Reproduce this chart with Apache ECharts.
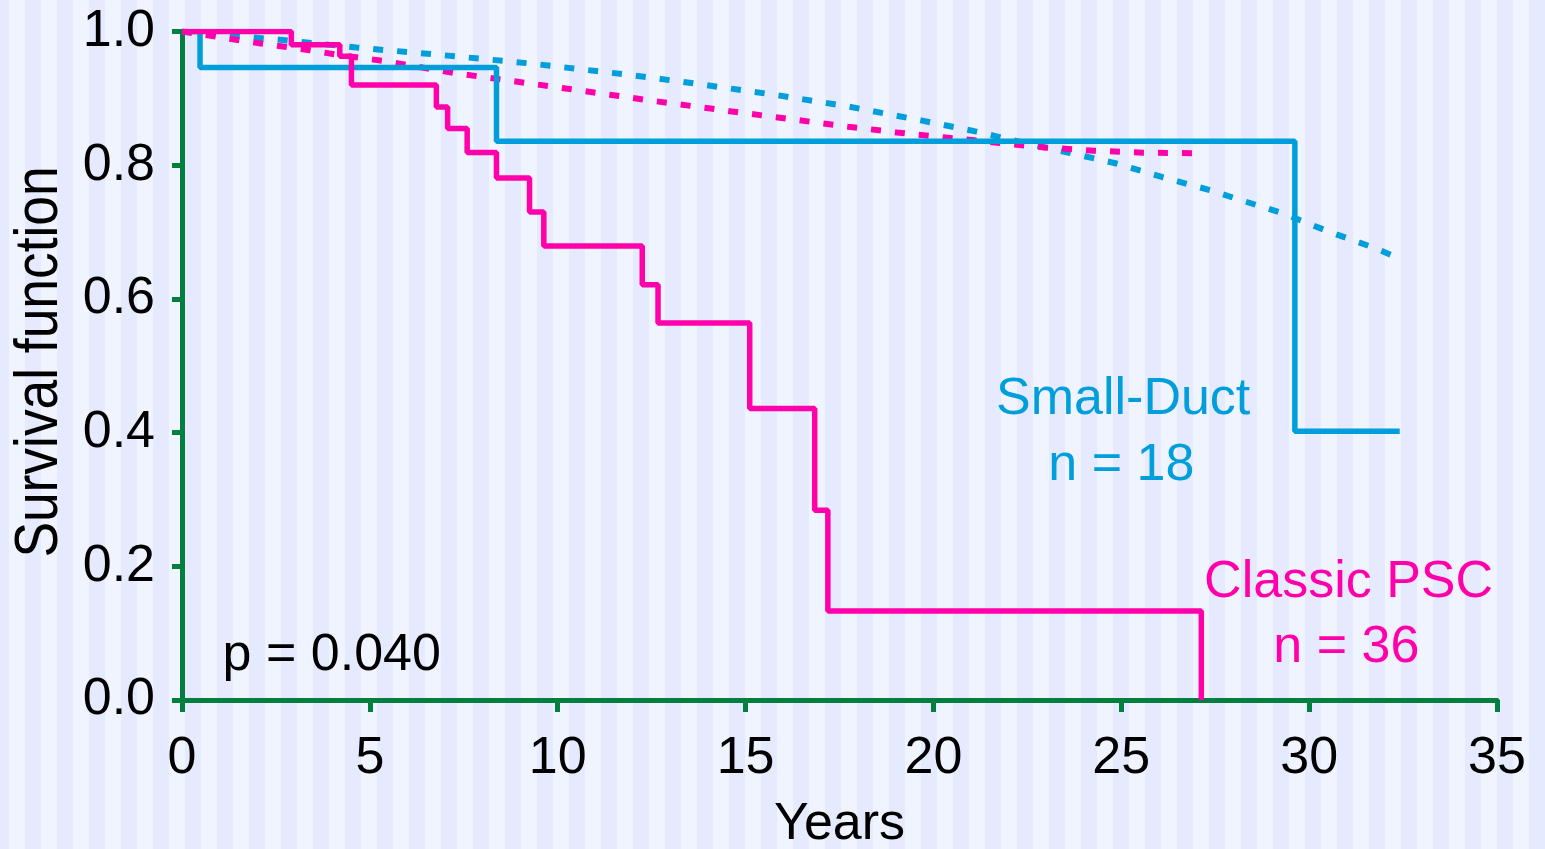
<!DOCTYPE html>
<html>
<head>
<meta charset="utf-8">
<script src="https://cdn.jsdelivr.net/npm/echarts@6/dist/echarts.min.js"></script>
<style>
  html, body { margin: 0; padding: 0; width: 1545px; height: 849px; overflow: hidden; }
  body {
    background: repeating-linear-gradient(90deg,
      #e6eaff 0px, #e6eaff 9px,
      #f0f4ff 9px, #f0f4ff 25px,
      #e6eaff 25px, #e6eaff 32px);
  }
  #chart { width: 1545px; height: 849px; }
</style>
</head>
<body>
<div id="chart"></div>
<script>
// ---- Data (years, survival) ----
const smallDuctKM = [[0, 1], [0.48, 0.946], [8.37, 0.836], [29.62, 0.402], [32.41, 0.402]];
const classicKM = [[0, 1], [2.91, 0.980], [4.20, 0.963], [4.51, 0.920], [6.77, 0.887], [7.07, 0.855],
  [7.59, 0.819], [8.37, 0.781], [9.25, 0.730], [9.63, 0.679], [12.25, 0.621], [12.67, 0.564],
  [15.11, 0.436], [16.84, 0.284], [17.19, 0.133], [27.13, 0]];
const smallDuctExpected = [[0, 1], [2.74, 0.987], [4.64, 0.976], [6.67, 0.966], [8.0, 0.959],
  [9.3, 0.952], [11.92, 0.935], [13.29, 0.925], [15.82, 0.905], [17.77, 0.8875], [19.7, 0.8666],
  [21.0, 0.852], [22.3, 0.835], [23.58, 0.819], [24.87, 0.8026], [26.1, 0.782], [27.4, 0.762],
  [28.0, 0.751], [29.3, 0.728], [30.55, 0.700], [31.75, 0.676], [32.3, 0.663]];
const classicExpected = [[0, 1], [1.4, 0.988], [2.1, 0.982], [3.4, 0.972], [4.06, 0.966],
  [5.35, 0.956], [7.3, 0.9375], [9.87, 0.9175], [12.5, 0.8965], [15.1, 0.877], [17.73, 0.8576],
  [19.03, 0.849], [20.33, 0.8415], [21.63, 0.834], [22.94, 0.8266], [24.27, 0.8217],
  [25.58, 0.8187], [26.87, 0.818], [27.0, 0.818]];
const xTickValues = [0, 5, 10, 15, 20, 25, 30, 35];
const yTickValues = [0, 0.2, 0.4, 0.6, 0.8, 1.0];

// annotation texts (anchored in data coordinates)
const annotations = [
  { text: 'Small-Duct', at: [25.05, 0.450], color: '#009edb', align: 'center' },
  { text: 'n = 18', at: [25.0, 0.351], color: '#009edb', align: 'center' },
  { text: 'Classic PSC', at: [31.05, 0.176], color: '#ff00aa', align: 'center' },
  { text: 'n = 36', at: [30.99, 0.079], color: '#ff00aa', align: 'center' },
  { text: 'p = 0.040', at: [1.08, 0.066], color: '#000000', align: 'left' }
];

const BLUE = '#009edb';
const PINK = '#ff00aa';
const GREEN = '#007f3f';
const FONT = '"Liberation Sans", Arial, Helvetica, sans-serif';

const chart = echarts.init(document.getElementById('chart'), null, { renderer: 'canvas' });

chart.setOption({
  animation: false,
  backgroundColor: 'transparent',
  grid: { left: 182, right: 48, top: 31.5, bottom: 149, containLabel: false, outerBoundsMode: 'none' },
  xAxis: {
    type: 'value', min: 0, max: 35, interval: 5,
    name: 'Years', nameLocation: 'middle', nameGap: 99,
    nameTextStyle: { fontSize: 52, color: '#000', fontFamily: FONT },
    axisLine: { show: true, onZero: false, lineStyle: { color: GREEN, width: 5 } },
    axisTick: { show: true, length: 12, lineStyle: { color: GREEN, width: 5 } },
    axisLabel: {
      fontSize: 52, color: '#000', fontFamily: FONT, margin: 33,
      formatter: v => xTickValues.includes(v) ? String(v) : ''
    },
    splitLine: { show: false }
  },
  yAxis: {
    type: 'value', min: 0, max: 1, interval: 0.2,
    axisLine: { show: true, onZero: false, lineStyle: { color: GREEN, width: 5 } },
    axisTick: { show: true, length: 10, lineStyle: { color: GREEN, width: 5 } },
    axisLabel: {
      fontSize: 52, color: '#000', fontFamily: FONT, margin: 27,
      formatter: v => yTickValues.some(t => Math.abs(t - v) < 1e-9) ? v.toFixed(1) : ''
    },
    splitLine: { show: false }
  },
  series: [
    {
      name: 'Small-Duct expected', type: 'line', data: smallDuctExpected, showSymbol: false,
      smooth: false, lineStyle: { color: BLUE, width: 6, type: [10, 14], cap: 'butt' }, z: 2
    },
    {
      name: 'Classic PSC expected', type: 'line', data: classicExpected, showSymbol: false,
      smooth: false, lineStyle: { color: PINK, width: 6, type: [10, 14], cap: 'butt' }, z: 3
    },
    {
      name: 'Small-Duct', type: 'line', step: 'end', data: smallDuctKM, showSymbol: false,
      lineStyle: { color: BLUE, width: 5.5 }, z: 4
    },
    {
      name: 'Classic PSC', type: 'line', step: 'end', data: classicKM, showSymbol: false,
      lineStyle: { color: PINK, width: 5.5 }, z: 5
    }
  ]
});

const graphics = annotations.map(a => {
  const p = chart.convertToPixel({ gridIndex: 0 }, a.at);
  return {
    type: 'text', x: p[0], y: p[1], z: 10,
    style: {
      text: a.text, fill: a.color, fontSize: 52, fontFamily: FONT,
      align: a.align, verticalAlign: 'middle'
    }
  };
});
graphics.push({
  type: 'text', x: 40, y: 362, rotation: Math.PI / 2, scaleX: 0.86, z: 10,
  style: {
    text: 'Survival function', fill: '#000', fontSize: 62, fontFamily: FONT,
    align: 'center', verticalAlign: 'middle'
  }
});
chart.setOption({ graphic: graphics });
</script>
</body>
</html>
